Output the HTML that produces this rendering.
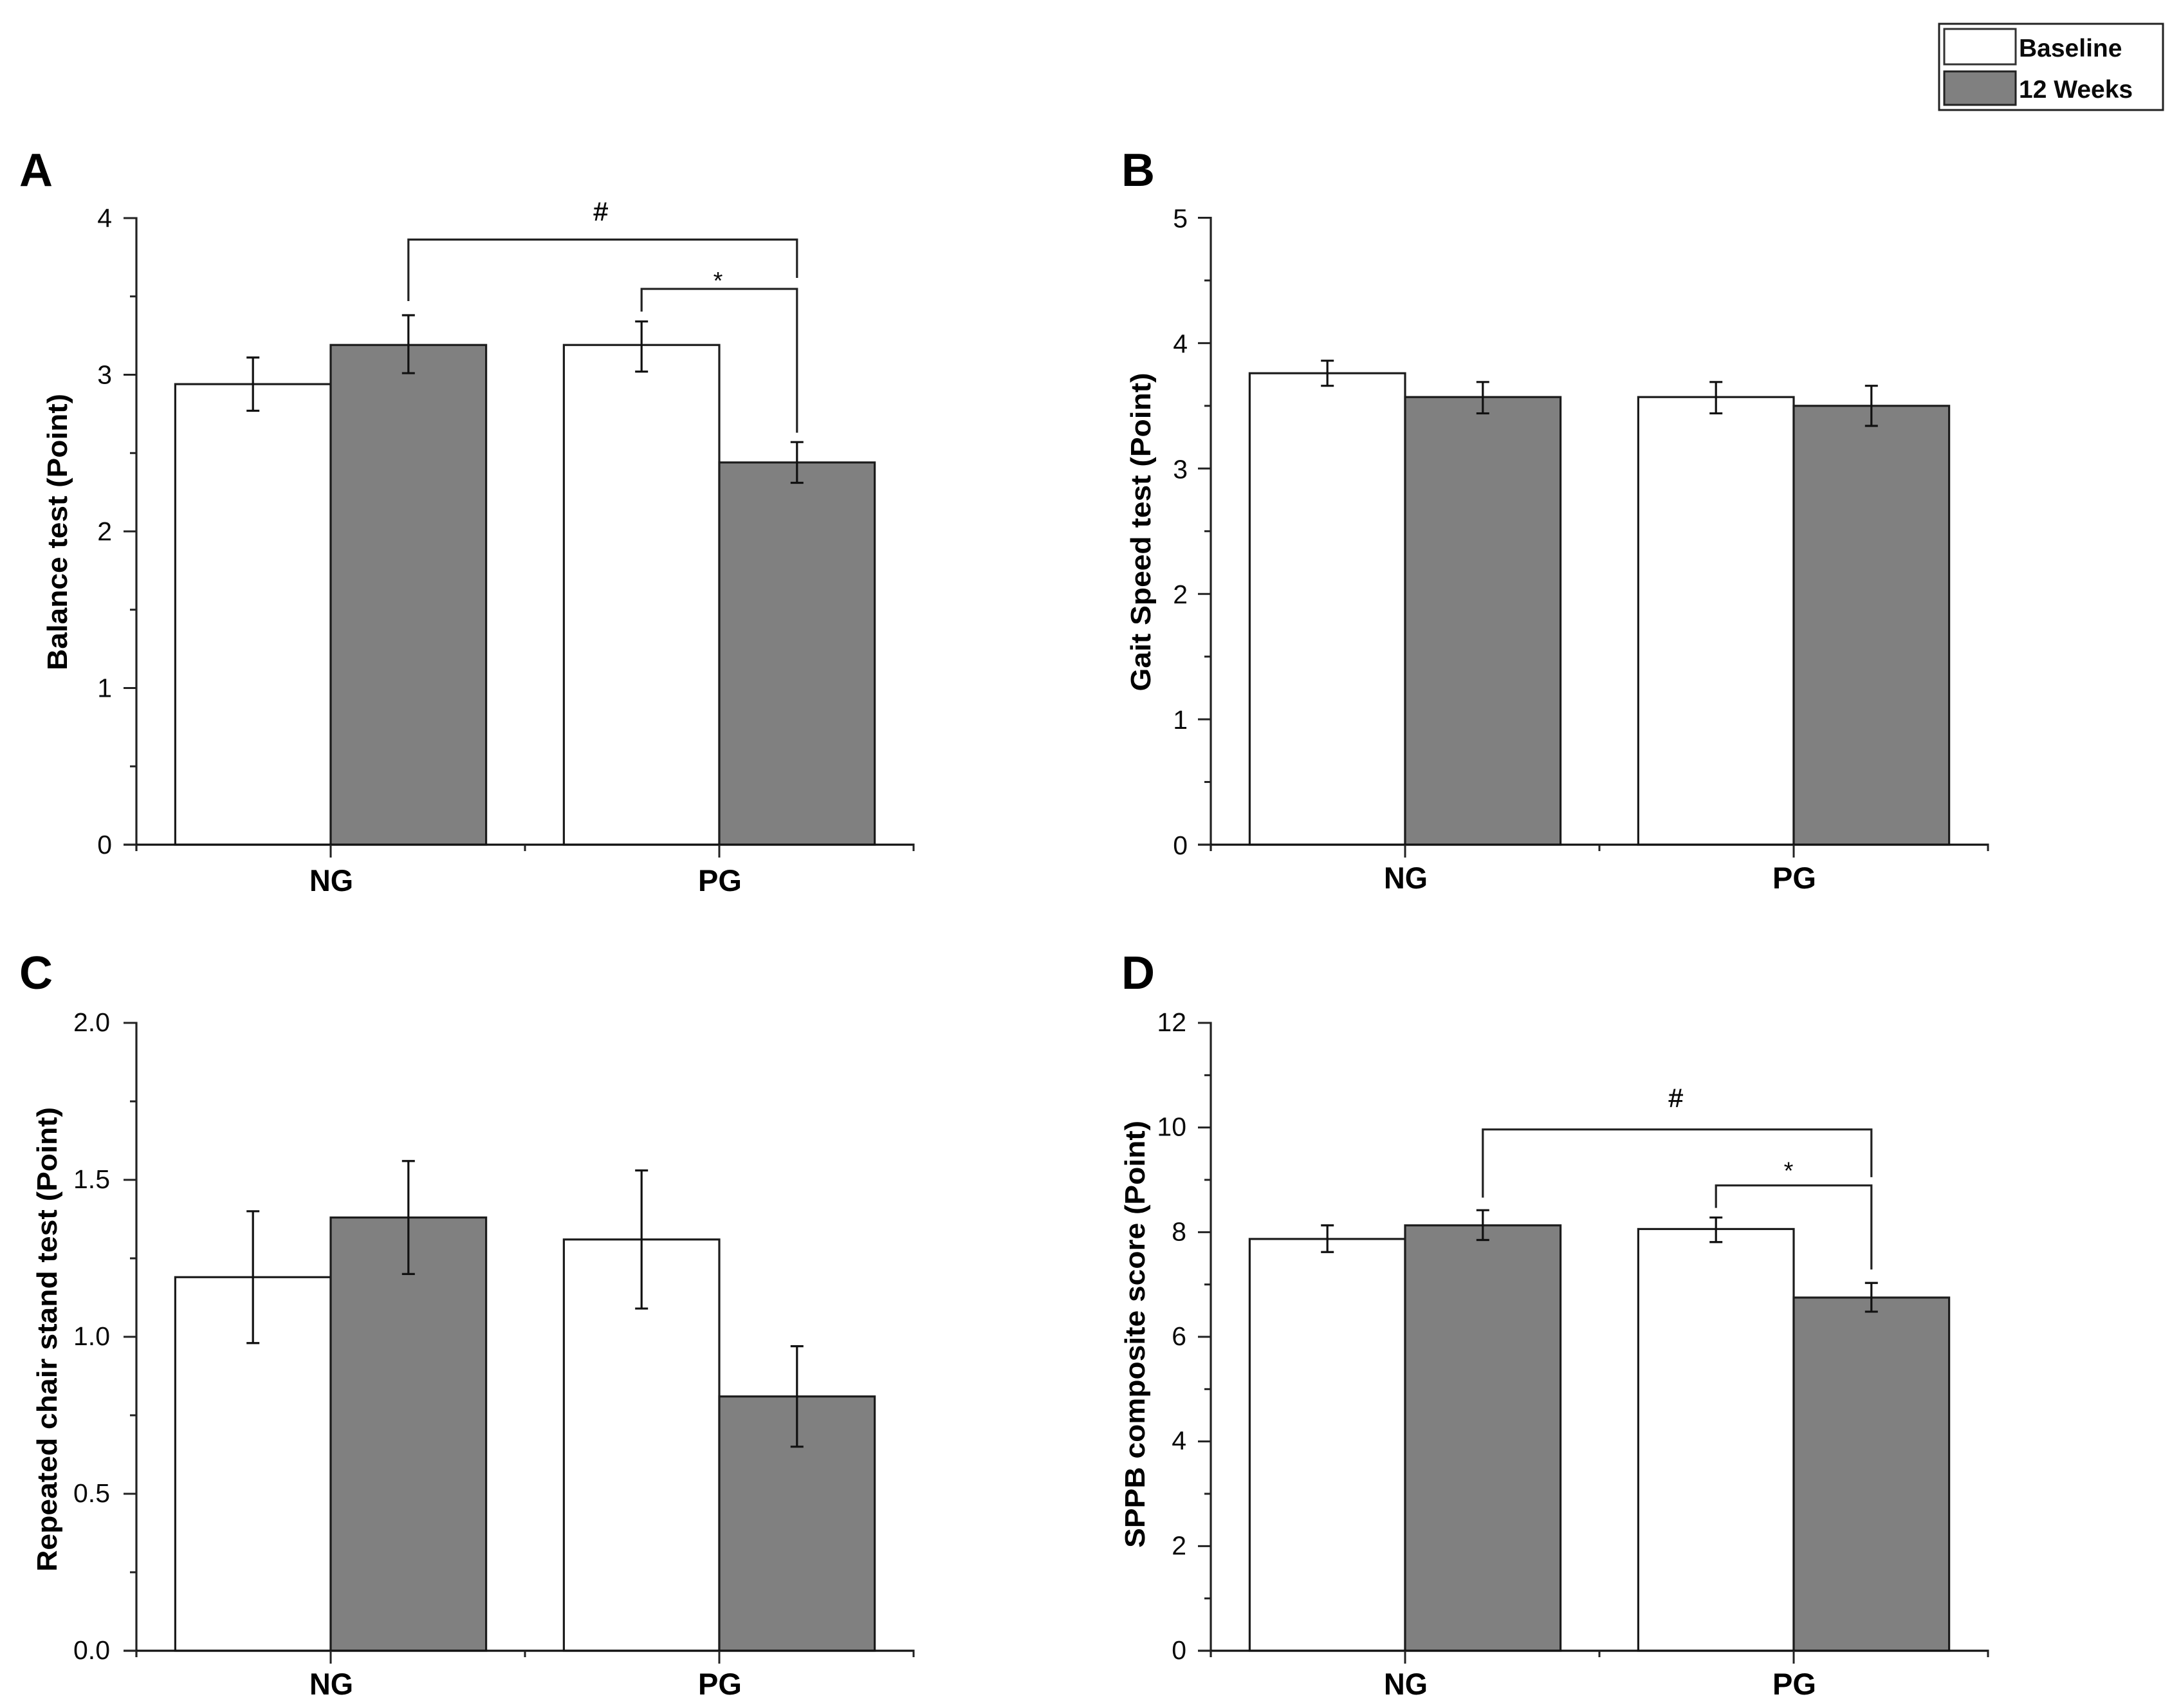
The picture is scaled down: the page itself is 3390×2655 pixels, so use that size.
<!DOCTYPE html>
<html lang="en">
<head>
<meta charset="utf-8">
<title>Physical performance outcomes by group</title>
<style>
html,body{margin:0;padding:0;background:#fff;width:3390px;height:2655px;overflow:hidden}
svg{display:block}
text{font-family:"Liberation Sans",Arial,sans-serif;fill:#0a0a0a}
</style>
</head>
<body>
<svg id="figure" xmlns="http://www.w3.org/2000/svg" width="3390" height="2655" viewBox="0 0 3390 2655">
  <rect x="0" y="0" width="3390" height="2655" fill="#fff"/>
  <g>
    <rect x="3014" y="37" width="348" height="134" fill="#fff" stroke="#222" stroke-width="3"/>
    <rect x="3022" y="45" width="111" height="55" fill="#fff" stroke="#333" stroke-width="3"/>
    <text x="3138" y="88" font-size="39" font-weight="700">Baseline</text>
    <rect x="3022" y="111" width="111" height="52" fill="#808080" stroke="#222" stroke-width="3"/>
    <text x="3138" y="152" font-size="39" font-weight="700">12 Weeks</text>
  </g>
</svg>
<script>
const categories = ['NG', 'PG'];

const balanceBaseline = [2.94, 3.19];
const balanceWeeks = [3.19, 2.44];
const balanceBaselineLow = [2.77, 3.02];
const balanceBaselineHigh = [3.11, 3.34];
const balanceWeeksLow = [3.01, 2.31];
const balanceWeeksHigh = [3.38, 2.57];
const balanceTicks = ['0', '1', '2', '3', '4'];

const gaitBaseline = [3.76, 3.57];
const gaitWeeks = [3.57, 3.50];
const gaitBaselineLow = [3.66, 3.44];
const gaitBaselineHigh = [3.86, 3.69];
const gaitWeeksLow = [3.44, 3.34];
const gaitWeeksHigh = [3.69, 3.66];
const gaitTicks = ['0', '1', '2', '3', '4', '5'];

const chairBaseline = [1.19, 1.31];
const chairWeeks = [1.38, 0.81];
const chairBaselineLow = [0.98, 1.09];
const chairBaselineHigh = [1.40, 1.53];
const chairWeeksLow = [1.20, 0.65];
const chairWeeksHigh = [1.56, 0.97];
const chairTicks = ['0.0', '0.5', '1.0', '1.5', '2.0'];

const sppbBaseline = [7.87, 8.06];
const sppbWeeks = [8.13, 6.75];
const sppbBaselineLow = [7.62, 7.81];
const sppbBaselineHigh = [8.13, 8.28];
const sppbWeeksLow = [7.85, 6.48];
const sppbWeeksHigh = [8.42, 7.03];
const sppbTicks = ['0', '2', '4', '6', '8', '10', '12'];

const balanceHashBracket = [3.47, 3.863, 3.618];
const balanceStarBracket = [3.403, 3.548, 2.63];
const sppbHashBracket = [8.66, 9.963, 9.05];
const sppbStarBracket = [8.463, 8.893, 7.287];

const NS = 'http://www.w3.org/2000/svg';
const svg = document.getElementById('figure');

function mk(tag, attrs, parent, txt) {
  const el = document.createElementNS(NS, tag);
  for (const k in attrs) el.setAttribute(k, attrs[k]);
  if (txt !== undefined) el.textContent = txt;
  parent.appendChild(el);
  return el;
}

function drawPanel(p) {
  const g = mk('g', {}, svg);
  
  

  const yMax = parseFloat(p.ticks[p.ticks.length - 1]);
  const yMin = parseFloat(p.ticks[0]);
  const y = v => p.y0 - (v - yMin) / (yMax - yMin) * (p.y0 - p.yTop);
  const x = v => p.x0 + (v + 0.5) * (p.x1 - p.x0) / categories.length;
  const barW = 0.4 * (p.x1 - p.x0) / categories.length;

  const letter = mk('text', {x: p.letterX, y: p.letterY, 'font-size': 72, 'font-weight': 700, style: 'fill:#000'}, g, p.letter);
  
  

  categories.forEach((cat, i) => {
    const cx = x(i);
    const series = [
      {name: 'baseline', v: p.base[i], lo: p.baseLow[i], hi: p.baseHigh[i], fill: '#fff', left: cx - barW},
      {name: '12-weeks', v: p.weeks[i], lo: p.weeksLow[i], hi: p.weeksHigh[i], fill: '#808080', left: cx}
    ];
    series.forEach(s => {
      const bar = mk('rect', {x: s.left, y: y(s.v), width: barW, height: p.y0 - y(s.v), fill: s.fill, stroke: '#1c1c1c', 'stroke-width': 3.2}, g);
      
      
    });
    series.forEach(s => {
      const mid = s.left + barW / 2;
      const d = 'M' + (mid - 10) + ' ' + y(s.hi) + 'H' + (mid + 10) + 'M' + mid + ' ' + y(s.hi) + 'V' + y(s.lo) + 'M' + (mid - 10) + ' ' + y(s.lo) + 'H' + (mid + 10);
      const err = mk('path', {d: d, fill: 'none', stroke: '#111', 'stroke-width': 3.2}, g);
      
      
    });
  });

  const yAxis = mk('line', {x1: p.x0, x2: p.x0, y1: p.yTop - 1.5, y2: p.y0 + 10, stroke: '#222', 'stroke-width': 3.2}, g);
  
  
  const xAxis = mk('line', {x1: p.x0 - 20, x2: p.x1 + 1.5, y1: p.y0, y2: p.y0, stroke: '#111', 'stroke-width': 3.2}, g);
  
  

  p.ticks.forEach((t, i) => {
    const v = parseFloat(t);
    const tk = mk('line', {x1: p.x0 - 20, x2: p.x0, y1: y(v), y2: y(v), stroke: '#222', 'stroke-width': 3}, g);
    
    
    const lb = mk('text', {x: p.x0 - p.labelGap, y: y(v) + p.labelDy, 'font-size': 41, 'text-anchor': 'end'}, g, t);
    
    
    if (i < p.ticks.length - 1) {
      const mv = (v + parseFloat(p.ticks[i + 1])) / 2;
      const mt = mk('line', {x1: p.x0 - 10, x2: p.x0, y1: y(mv), y2: y(mv), stroke: '#222', 'stroke-width': 3}, g);
      
      
    }
  });

  [-0.5, 0.5, 1.5].forEach(v => {
    const mt = mk('line', {x1: x(v), x2: x(v), y1: p.y0, y2: p.y0 + 10, stroke: '#222', 'stroke-width': 3}, g);
    
    
  });
  categories.forEach((cat, i) => {
    const tk = mk('line', {x1: x(i), x2: x(i), y1: p.y0, y2: p.y0 + 20, stroke: '#222', 'stroke-width': 3}, g);
    
    
    const lb = mk('text', {x: x(i) + 1, y: p.catY, 'font-size': 47, 'font-weight': 700, 'text-anchor': 'middle', textLength: 68, lengthAdjust: 'spacingAndGlyphs', style: 'fill:#000'}, g, cat);
    
    
  });

  const title = mk('text', {
    transform: 'translate(' + p.titleX + ' ' + p.titleY + ') rotate(-90)',
    'font-size': 44, 'font-weight': 700, 'text-anchor': 'middle',
    textLength: p.titleLen, lengthAdjust: 'spacingAndGlyphs', style: 'fill:#000'
  }, g, p.title);
  
  

  if (p.hash) {
    const leftHash = x(0) + barW / 2;
    const leftStar = x(1) - barW / 2;
    const right = x(1) + barW / 2;
    const h = mk('path', {d: 'M' + leftHash + ' ' + y(p.hash[0]) + 'V' + y(p.hash[1]) + 'H' + right + 'V' + y(p.hash[2]), fill: 'none', stroke: '#222', 'stroke-width': 3.2}, g);
    
    
    const s = mk('path', {d: 'M' + leftStar + ' ' + y(p.star[0]) + 'V' + y(p.star[1]) + 'H' + right + 'V' + y(p.star[2]), fill: 'none', stroke: '#222', 'stroke-width': 3.2}, g);
    
    
    const ht = mk('text', {x: (leftHash + right) / 2 + p.hashDx, y: y(p.hash[1]) - p.hashDy, 'font-size': 40, 'text-anchor': 'middle', stroke: '#0a0a0a', 'stroke-width': 0.7}, g, '#');
    
    
    const st = mk('text', {x: (leftStar + right) / 2 + p.starDx, y: y(p.star[1]) - p.starDy, 'font-size': 38, 'text-anchor': 'middle'}, g, '*');
    
    
  }
}

drawPanel({letter: 'A', letterX: 30, letterY: 289, x0: 212, x1: 1420, yTop: 339, y0: 1313, catY: 1385, labelGap: 38, labelDy: 14,
  title: 'Balance test (Point)', titleX: 104, titleY: 827, titleLen: 430, ticks: balanceTicks,
  base: balanceBaseline, weeks: balanceWeeks, baseLow: balanceBaselineLow, baseHigh: balanceBaselineHigh,
  weeksLow: balanceWeeksLow, weeksHigh: balanceWeeksHigh, hash: balanceHashBracket, star: balanceStarBracket,
  hashDx: -3, hashDy: 30, starDx: -2, starDy: 0});

drawPanel({letter: 'B', letterX: 1743, letterY: 289, x0: 1882, x1: 3090, yTop: 338.5, y0: 1313, catY: 1381, labelGap: 36, labelDy: 15,
  title: 'Gait Speed test (Point)', titleX: 1788, titleY: 827, titleLen: 495, ticks: gaitTicks,
  base: gaitBaseline, weeks: gaitWeeks, baseLow: gaitBaselineLow, baseHigh: gaitBaselineHigh,
  weeksLow: gaitWeeksLow, weeksHigh: gaitWeeksHigh});

drawPanel({letter: 'C', letterX: 30, letterY: 1537, x0: 212, x1: 1420, yTop: 1590, y0: 2566, catY: 2634, labelGap: 41, labelDy: 13,
  title: 'Repeated chair stand test (Point)', titleX: 88, titleY: 2082, titleLen: 722, ticks: chairTicks,
  base: chairBaseline, weeks: chairWeeks, baseLow: chairBaselineLow, baseHigh: chairBaselineHigh,
  weeksLow: chairWeeksLow, weeksHigh: chairWeeksHigh});

drawPanel({letter: 'D', letterX: 1743, letterY: 1537, x0: 1882, x1: 3090, yTop: 1590, y0: 2566, catY: 2634, labelGap: 38, labelDy: 13,
  title: 'SPPB composite score (Point)', titleX: 1779, titleY: 2074, titleLen: 664, ticks: sppbTicks,
  base: sppbBaseline, weeks: sppbWeeks, baseLow: sppbBaselineLow, baseHigh: sppbBaselineHigh,
  weeksLow: sppbWeeksLow, weeksHigh: sppbWeeksHigh, hash: sppbHashBracket, star: sppbStarBracket,
  hashDx: -2, hashDy: 35, starDx: -8, starDy: 10});
</script>
</body>
</html>
